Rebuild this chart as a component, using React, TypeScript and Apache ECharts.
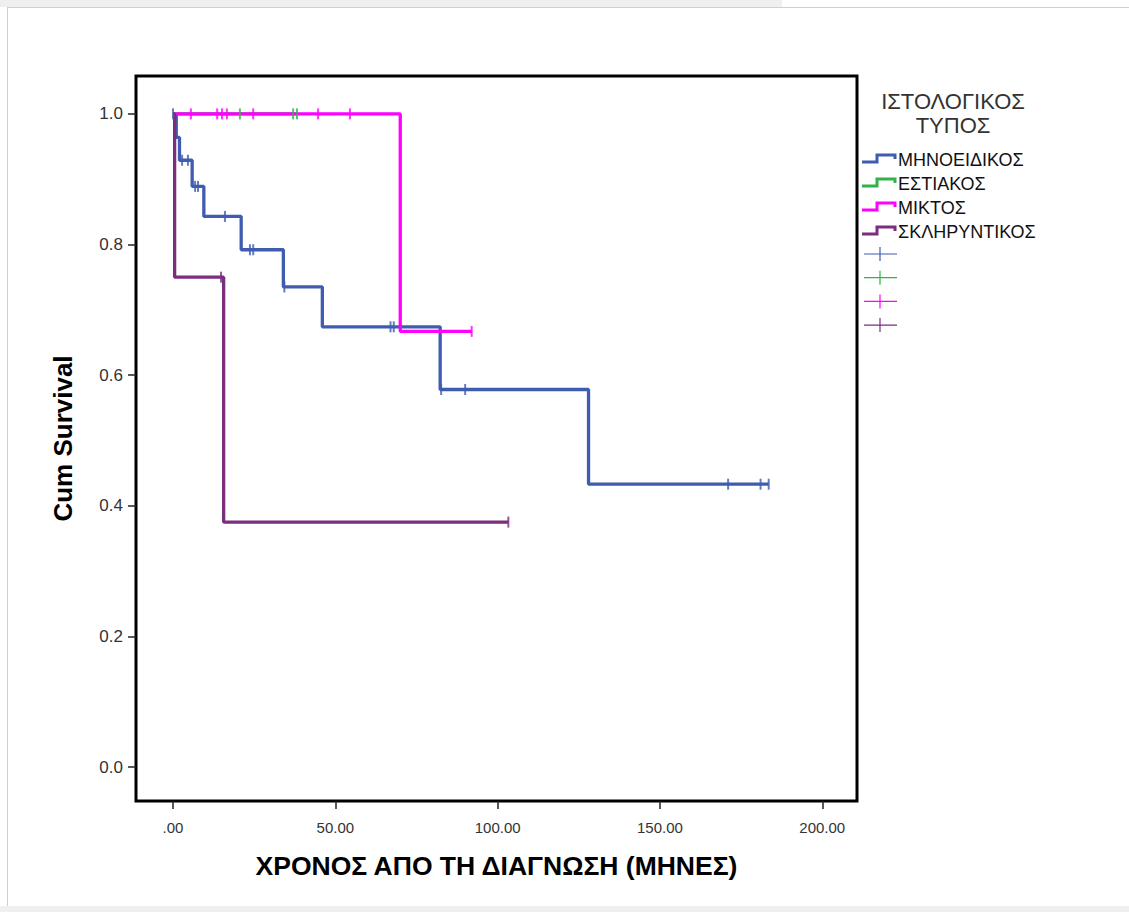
import React, { useEffect, useRef } from "react";
import * as echarts from "echarts";

// ---- data ----
const groupNames = ["ΜΗΝΟΕΙΔΙΚΟΣ", "ΕΣΤΙΑΚΟΣ", "ΜΙΚΤΟΣ", "ΣΚΛΗΡΥΝΤΙΚΟΣ"];
const groupColors = ["#3f5db0", "#33b24a", "#ff00ff", "#7b2d80"];

// event times (survival drops) and survival after each drop
const blueEventT = [1, 2, 5.9, 9.5, 21, 34, 46, 82.3, 128];
const blueEventS = [0.964, 0.929, 0.889, 0.843, 0.792, 0.735, 0.674, 0.578, 0.433];
const blueEnd = 183.5;
const blueCensorT = [0, 2.8, 4.6, 6.8, 7.7, 16, 23.7, 24.7, 34.3, 67, 68, 82.6, 90, 171, 181, 183.5];

const greenEventT: number[] = [];
const greenEventS: number[] = [];
const greenEnd = 38.2;
const greenCensorT = [20.6, 37, 38.2];

const magentaEventT = [70];
const magentaEventS = [0.667];
const magentaEnd = 92;
const magentaCensorT = [5.5, 13.6, 15.1, 16.6, 24.7, 44.7, 54.5, 92];

const purpleEventT = [0.5, 15.6];
const purpleEventS = [0.75, 0.375];
const purpleEnd = 103.3;
const purpleCensorT = [14.8, 103.3];

const xTicks = [0, 50, 100, 150, 200];
const yTicks = [0, 0.2, 0.4, 0.6, 0.8, 1.0];

const xTitle = "ΧΡΟΝΟΣ ΑΠΟ ΤΗ ΔΙΑΓΝΩΣΗ (ΜΗΝΕΣ)";
const yTitle = "Cum Survival";
const legendTitle = ["ΙΣΤΟΛΟΓΙΚΟΣ", "ΤΥΠΟΣ"];

// ---- helpers ----
function stepData(ts: number[], ss: number[], end: number) {
  const d: number[][] = [[0, 1]];
  ts.forEach((t, i) => d.push([t, ss[i]]));
  d.push([end, ss.length ? ss[ss.length - 1] : 1]);
  return d;
}
function survAt(ts: number[], ss: number[], t: number) {
  let s = 1;
  ts.forEach((et, i) => {
    if (et <= t) s = ss[i];
  });
  return s;
}

const groups = [
  { t: blueEventT, s: blueEventS, end: blueEnd, c: blueCensorT },
  { t: greenEventT, s: greenEventS, end: greenEnd, c: greenCensorT },
  { t: magentaEventT, s: magentaEventS, end: magentaEnd, c: magentaCensorT },
  { t: purpleEventT, s: purpleEventS, end: purpleEnd, c: purpleCensorT },
];

const FONT = "'Liberation Sans', Arial, sans-serif";

export default function App() {
  const ref = useRef<HTMLDivElement>(null);
  useEffect(() => {
    if (!ref.current) return;
    const chart = echarts.init(ref.current, undefined, { renderer: "svg" });

    const series: any[] = [];
    groups.forEach((g, i) => {
      series.push({
        type: "line",
        name: groupNames[i],
        step: "end",
        data: stepData(g.t, g.s, g.end),
        showSymbol: false,
        symbol: "none",
        lineStyle: { color: groupColors[i], width: 3.3 },
        z: 2 + i,
      });
    });
    groups.forEach((g, i) => {
      series.push({
        type: "scatter",
        name: groupNames[i] + " censored",
        data: g.c.map((t) => [t, survAt(g.t, g.s, t)]),
        symbol: "rect",
        symbolSize: [2, 11],
        itemStyle: { color: groupColors[i] },
        z: 10 + i,
      });
    });

    // legend drawn with graphic elements
    const legendEls: any[] = [];
    legendTitle.forEach((txt, k) => {
      legendEls.push({
        type: "text",
        x: 953,
        y: 101 + k * 24,
        style: {
          text: txt,
          fill: "#333",
          font: `22px ${FONT}`,
          textAlign: "center",
          textVerticalAlign: "middle",
        },
      });
    });
    groupNames.forEach((nm, i) => {
      const cy = 159 + i * 24;
      legendEls.push({
        type: "polyline",
        shape: {
          points: [
            [862, cy + 3],
            [877, cy + 3],
            [877, cy - 4],
            [895, cy - 4],
            [895, cy],
          ],
        },
        style: { stroke: groupColors[i], lineWidth: 3, fill: null },
      });
      legendEls.push({
        type: "text",
        x: 898,
        y: cy + 1,
        style: {
          text: nm,
          fill: "#111",
          font: `18px ${FONT}`,
          textAlign: "left",
          textVerticalAlign: "middle",
        },
      });
    });
    groupNames.forEach((_, i) => {
      const cy = 254 + i * 23.7;
      legendEls.push({
        type: "line",
        shape: { x1: 864, y1: cy, x2: 897, y2: cy },
        style: { stroke: groupColors[i], lineWidth: 1.2 },
      });
      legendEls.push({
        type: "line",
        shape: { x1: 880, y1: cy - 7, x2: 880, y2: cy + 7 },
        style: { stroke: groupColors[i], lineWidth: 1.2 },
      });
    });

    const frame: any[] = [
      { type: "rect", shape: { x: 0, y: 0, width: 782, height: 7 }, style: { fill: "#efefef" }, z: -10 },
      { type: "rect", shape: { x: 0, y: 906, width: 1129, height: 6 }, style: { fill: "#efefef" }, z: -10 },
      { type: "line", shape: { x1: 7, y1: 7.5, x2: 1129, y2: 7.5 }, style: { stroke: "#cfcfcf", lineWidth: 1 }, z: -10 },
      { type: "line", shape: { x1: 7.5, y1: 7, x2: 7.5, y2: 906 }, style: { stroke: "#cfcfcf", lineWidth: 1 }, z: -10 },
    ];

    chart.setOption({
      animation: false,
      backgroundColor: "#ffffff",
      grid: {
        left: 136,
        top: 76,
        right: 272,
        bottom: 111,
        show: true,
        borderColor: "#000",
        borderWidth: 3,
        backgroundColor: "transparent",
      },
      xAxis: {
        type: "value",
        min: -11.4,
        max: 210.7,
        name: xTitle,
        nameLocation: "middle",
        nameGap: 51,
        nameTextStyle: { fontFamily: FONT, fontSize: 26.5, fontWeight: "bold", color: "#000" },
        axisLine: { show: false, onZero: false },
        splitLine: { show: false },
        axisTick: {
          show: true,
          customValues: xTicks,
          length: 8,
          lineStyle: { color: "#222", width: 1.5 },
        },
        axisLabel: {
          customValues: xTicks,
          formatter: (v: number) => (v === 0 ? ".00" : v.toFixed(2)),
          fontFamily: FONT,
          fontSize: 15,
          color: "#333",
          margin: 19,
        },
      },
      yAxis: {
        type: "value",
        min: -0.052,
        max: 1.058,
        name: yTitle,
        nameLocation: "middle",
        nameGap: 60,
        nameTextStyle: { fontFamily: FONT, fontSize: 26, fontWeight: "bold", color: "#000" },
        axisLine: { show: false, onZero: false },
        splitLine: { show: false },
        axisTick: {
          show: true,
          customValues: yTicks,
          length: 8,
          lineStyle: { color: "#222", width: 1.5 },
        },
        axisLabel: {
          customValues: yTicks,
          formatter: (v: number) => v.toFixed(1),
          fontFamily: FONT,
          fontSize: 17,
          color: "#333",
          margin: 13,
        },
      },
      graphic: [...frame, ...legendEls],
      series,
    });
    return () => chart.dispose();
  }, []);
  return (
    <div
      ref={ref}
      style={{ position: "fixed", left: 0, top: 0, width: 1129, height: 912, background: "#fff" }}
    />
  );
}
